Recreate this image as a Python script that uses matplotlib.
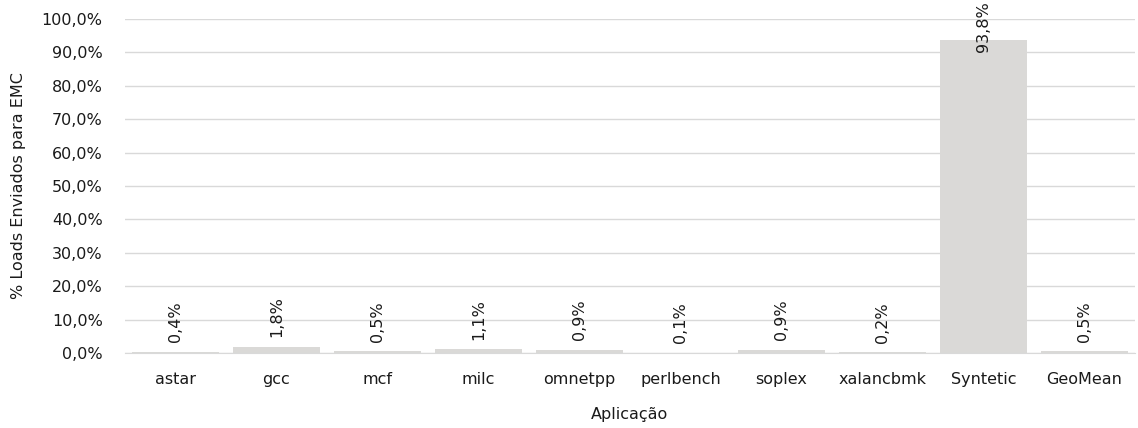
import matplotlib
matplotlib.use('Agg')
import matplotlib.pyplot as plt
import numpy as np

apps = ['astar', 'gcc', 'mcf', 'milc', 'omnetpp', 'perlbench', 'soplex',
        'xalancbmk', 'Syntetic', 'GeoMean']
loads_emc = [0.4, 1.8, 0.5, 1.1, 0.9, 0.1, 0.9, 0.2, 93.8, 0.5]
yticks = [0, 10, 20, 30, 40, 50, 60, 70, 80, 90, 100]

plt.rcParams['font.family'] = ['DejaVu Sans']
plt.rcParams['font.size'] = 11.5
text_color = '#1a1a1a'

fig = plt.figure(figsize=(11.38, 4.28), dpi=100)
ax = fig.add_axes([0.1098, 0.1752, 0.8875, 0.7804])

x = np.arange(len(apps))
ax.bar(x, loads_emc, width=0.86, color='#dad9d7', zorder=2)

for xi, v in zip(x, loads_emc):
    lbl = '{:.1f}%'.format(v).replace('.', ',')
    if v > 80:
        # no room above the tall bar: hang the label from the top of the figure
        ax.annotate(lbl, xy=(xi, 1.0), xycoords=('data', 'figure fraction'),
                    xytext=(0, -1), textcoords='offset points',
                    rotation=90, ha='center', va='top', color=text_color)
    else:
        ax.annotate(lbl, xy=(xi, v), xytext=(0, 7), textcoords='offset points',
                    rotation=90, ha='center', va='bottom', color=text_color)

ax.set_xlim(-0.5, len(apps) - 0.5)
ax.set_ylim(0, 100)
ax.set_yticks(yticks)
ax.set_yticklabels(['{:.1f}%'.format(t).replace('.', ',') for t in yticks],
                   color=text_color)
ax.set_xticks(x)
ax.set_xticklabels(apps, color=text_color)
ax.tick_params(length=0, pad=14)
ax.tick_params(axis='y', pad=16)

ax.yaxis.grid(True, color='#d9d9d9', linewidth=1, zorder=0)
ax.set_axisbelow(True)
for s in ['top', 'right', 'left']:
    ax.spines[s].set_visible(False)
ax.spines['bottom'].set_color('#d9d9d9')

ax.set_xlabel('Aplicação', color=text_color, labelpad=14)
ax.set_ylabel('% Loads Enviados para EMC', color=text_color, labelpad=11)

fig.savefig('out.png', dpi=100)
